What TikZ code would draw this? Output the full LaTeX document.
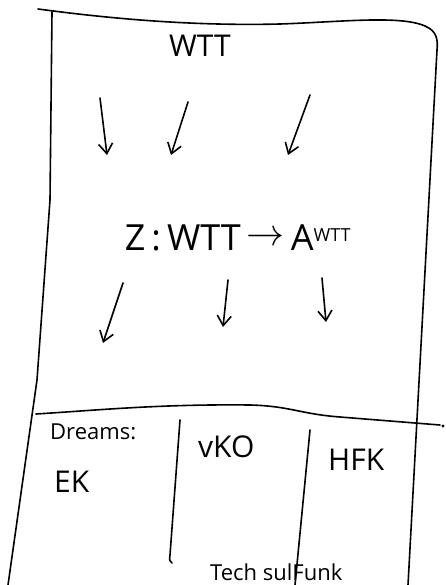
\documentclass[tikz,border=0pt]{standalone}
\usepackage{fontspec}
\setmainfont{Open Sans}
\usetikzlibrary{arrows.meta}
\tikzset{
  pen/.style={line width=1.6pt, line cap=round, line join=round, black},
  arr/.style={pen, -{Straight Barb[length=10pt,width=14pt,line width=1.6pt]}},
  hand/.style={font=\fontsize{30}{32}\selectfont, inner sep=0pt},
  small/.style={font=\fontsize{22}{24}\selectfont, inner sep=0pt},
}
\begin{document}
\begin{tikzpicture}[x=1pt,y=-1pt]
\useasboundingbox (0,0) rectangle (446,585);
% outer frame
\draw[pen] (38,9) .. controls (120,20) and (200,26) .. (280,24)
  .. controls (340,22) and (400,15) .. (425,26)
  .. controls (437,31) and (438,40) .. (437,50)
  -- (408,585);
\draw[pen] (52,12) -- (50,200) -- (37,380) -- (8,585);
% divider
\draw[pen] (36,414) .. controls (100,410) and (160,404) .. (250,405)
  .. controls (290,406) and (300,414) .. (340,417) -- (440,425);
\fill (443,426) circle (1.6pt);
\draw[pen] (180,420) -- (170,555) .. controls (169,560) and (170,562) .. (172,563);
\draw[pen] (310,430) -- (295,585);
% texts
\node[hand] (wtt) at (200,46) {WTT};
\node[hand, font=\fontsize{36}{38}\selectfont] (map) at (238,238) {Z\,:\,WTT\,\raisebox{0.25ex}{\resizebox{38pt}{!}{$\rightarrow$}}\,A\textsuperscript{\fontsize{18}{18}\selectfont WTT}};
\node[small, anchor=west] (dreams) at (50,432) {Dreams:};
\node[hand, anchor=west] (ek) at (54,482) {EK};
\node[hand, anchor=west] (vko) at (198,447) {vKO};
\node[hand, anchor=west] (hfk) at (328,460) {HFK};
\node[small, anchor=west] (bot) at (210,572) {Tech sulFunk};
% arrows
\coordinate (a1s) at (100,98);  \coordinate (a1e) at (107,155);
\coordinate (a2s) at (188,102); \coordinate (a2e) at (171,155);
\coordinate (a3s) at (310,95);  \coordinate (a3e) at (288,155);
\coordinate (b1s) at (123,283); \coordinate (b1e) at (103,343);
\coordinate (b2s) at (228,280); \coordinate (b2e) at (223,327);
\coordinate (b3s) at (322,278); \coordinate (b3e) at (326,322);
\foreach \p in {a1,a2,a3,b1,b2,b3} \draw[arr] (\p s) -- (\p e);
\end{tikzpicture}
\end{document}
